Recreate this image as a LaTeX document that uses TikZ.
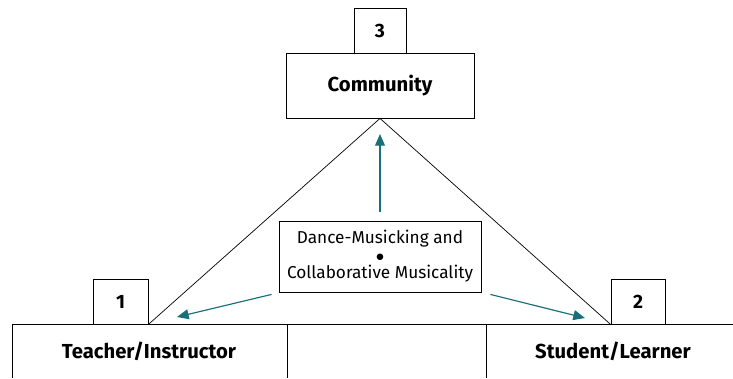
\documentclass[tikz,border=0pt]{standalone}
\usepackage{fontspec}
\setmainfont{Fira Sans}
\usetikzlibrary{arrows.meta}
\definecolor{arrowteal}{HTML}{1B6F78}

\begin{document}
\begin{tikzpicture}[x=0.03cm, y=-0.03cm,
    box/.style={draw, line width=0.7pt, inner sep=0pt, align=center},
    bigtext/.style={font=\fontsize{17.3}{19}\selectfont\bfseries},
    numbox/.style={box, minimum width=1.6cm, minimum height=1.35cm, font=\fontsize{16.5}{18}\selectfont\bfseries},
    flow/.style={arrowteal, line width=1pt, -{Triangle[length=10pt, width=8.5pt]}}]
    \useasboundingbox (0,0) rectangle (733,378);

    % top
    \node[box, bigtext, minimum width=5.64cm, minimum height=1.95cm] (comm) at (380,85.5) {Community};
    \node[numbox, minimum width=1.56cm] (three) at (380,30.5) {3};

    % bottom strip, runs off the page
    \draw[line width=0.7pt] (12,378) |- (733,324);
    \draw[line width=0.7pt] (287,324) -- (287,378);
    \draw[line width=0.7pt] (486,324) -- (486,378);
    \node[bigtext] (teach) at (149,351) {Teacher/Instructor};
    \node[bigtext] (learn) at (613,351) {Student/Learner};
    \node[numbox, minimum width=1.65cm] (one) at (120.5,301.5) {1};
    \node[numbox, minimum width=1.62cm] (two) at (638,301.5) {2};

    % triangle
    \draw[line width=0.6pt] (one.south east) -- (comm.south) -- (two.south west);

    % centre
    \node[box, minimum width=6.06cm, minimum height=2.13cm, font=\fontsize{14.7}{15}\selectfont] (ctr) at (380,256.5)
        {Dance-Musicking and\\ $\bullet$\\ Collaborative Musicality};

    \coordinate (upend) at (380,134);
    \coordinate (leftend) at (177,317);
    \coordinate (rightend) at (585,318);
    \draw[flow] (380,212) -- (upend);
    \draw[flow] ([shift={(-7,2)}]ctr.south west) -- (leftend);
    \draw[flow] ([shift={(9,2)}]ctr.south east) -- (rightend);
\end{tikzpicture}
\end{document}
